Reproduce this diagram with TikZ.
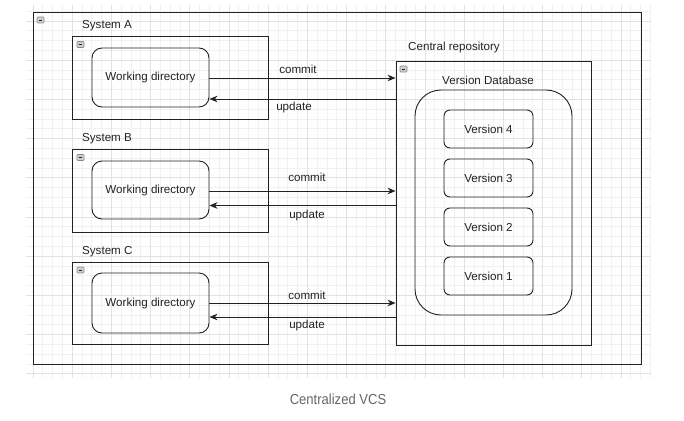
\documentclass[tikz,border=0pt]{standalone}
\usepackage{fontspec}
\setmainfont{Liberation Sans}
\newfontfamily\capfont[FakeStretch=0.9]{Liberation Sans}
\usetikzlibrary{arrows.meta}

\definecolor{ink}{HTML}{222222}
\definecolor{gridminor}{HTML}{F1F1F1}
\definecolor{gridmajor}{HTML}{E2E2E2}
\definecolor{capgray}{HTML}{666666}
\definecolor{iconfill}{HTML}{CFCFCF}
\definecolor{iconedge}{HTML}{8A8A8A}

\tikzset{
  every node/.style={font=\fontsize{11.6}{14}\selectfont, text=ink},
  box/.style={draw=ink, line width=0.9pt, rectangle, inner sep=0pt},
  rbox/.style={box, rounded corners=#1},
  label/.style={inner sep=0pt},
  arr/.style={draw=ink, line width=0.9pt, -{Stealth[length=8pt,width=6.5pt,inset=2.5pt]}},
  gminor/.style={draw=gridminor, line width=0.8pt},
  gmajor/.style={draw=gridmajor, line width=0.8pt},
  collapse/.pic={
    \draw[fill=iconfill, draw=iconedge, line width=0.6pt, rounded corners=0.8pt] (0,0) rectangle (7,6);
    \draw[ink, line width=0.9pt] (1.6,3) -- (5.4,3);
  }
}

\begin{document}
\begin{tikzpicture}[x=1pt, y=-1pt]
  % canvas
  \useasboundingbox (0,0) rectangle (684,420);
  \fill[white] (0,0) rectangle (684,420);

  % background grid
  \foreach \k in {0,...,63} \draw[gminor] ({33+9.8*\k},5) -- ({33+9.8*\k},378);
  \foreach \k in {-1,...,36} \draw[gminor] (26,{21+9.8*\k}) -- (651,{21+9.8*\k});
  \foreach \k in {0,...,15} \draw[gmajor] ({33+39.2*\k},5) -- ({33+39.2*\k},378);
  \foreach \k in {0,...,9} \draw[gmajor] (26,{21+39.2*\k}) -- (651,{21+39.2*\k});

  % outer container
  \node[box, minimum width=608pt, minimum height=352pt] (outer) at (337,188) {};
  \pic at (37,17) {collapse};

  % client systems
  \node[box, minimum width=196pt, minimum height=83pt] (sysA) at (170,77.5) {};
  \node[box, minimum width=196pt, minimum height=83pt] (sysB) at (170,190.5) {};
  \node[box, minimum width=196pt, minimum height=82pt] (sysC) at (170,303) {};
  \pic at (77,41.5) {collapse};
  \pic at (77,154.5) {collapse};
  \pic at (77,267) {collapse};

  \node[label, anchor=west] (labA) at (82,26) {System A};
  \node[label, anchor=west] (labB) at (82,139) {System B};
  \node[label, anchor=west] (labC) at (82,252) {System C};

  \node[rbox=10pt, minimum width=117pt, minimum height=59pt] (wdA) at (150.5,77.5) {Working directory};
  \node[rbox=10pt, minimum width=117pt, minimum height=58pt] (wdB) at (150.5,190) {Working directory};
  \node[rbox=10pt, minimum width=117pt, minimum height=60pt] (wdC) at (150.5,303) {Working directory};

  % central repository
  \node[box, minimum width=195pt, minimum height=284pt] (central) at (493.5,203) {};
  \pic at (400,66) {collapse};
  \node[label] (labCentral) at (454,47.5) {Central repository};
  \node[label] (labDB) at (488,80) {Version Database};
  \node[rbox=26pt, minimum width=157pt, minimum height=225pt] (db) at (493.5,202.5) {};

  \node[rbox=6pt, minimum width=89pt, minimum height=38pt] (v4) at (488.5,129) {Version 4};
  \node[rbox=6pt, minimum width=89pt, minimum height=38pt] (v3) at (488.5,178) {Version 3};
  \node[rbox=6pt, minimum width=89pt, minimum height=38pt] (v2) at (488.5,227) {Version 2};
  \node[rbox=6pt, minimum width=89pt, minimum height=38pt] (v1) at (488.5,276) {Version 1};

  % commit / update connectors
  \draw[arr] (wdA.east |- 0,78) -- (central.west |- 0,78);
  \draw[arr] (central.west |- 0,99) -- (wdA.east |- 0,99);
  \draw[arr] (wdB.east |- 0,191) -- (central.west |- 0,191);
  \draw[arr] (central.west |- 0,205.5) -- (wdB.east |- 0,205.5);
  \draw[arr] (wdC.east |- 0,303) -- (central.west |- 0,303);
  \draw[arr] (central.west |- 0,317) -- (wdC.east |- 0,317);

  \node[label] (cA) at (298,69) {commit};
  \node[label] (uA) at (294,107) {update};
  \node[label] (cB) at (307,177) {commit};
  \node[label] (uB) at (307,215) {update};
  \node[label] (cC) at (307,295.5) {commit};
  \node[label] (uC) at (307,325) {update};

  % caption
  \node[label, font=\capfont\fontsize{14.5}{17}\selectfont, text=capgray] (caption) at (338,399) {Centralized VCS};
\end{tikzpicture}
\end{document}
